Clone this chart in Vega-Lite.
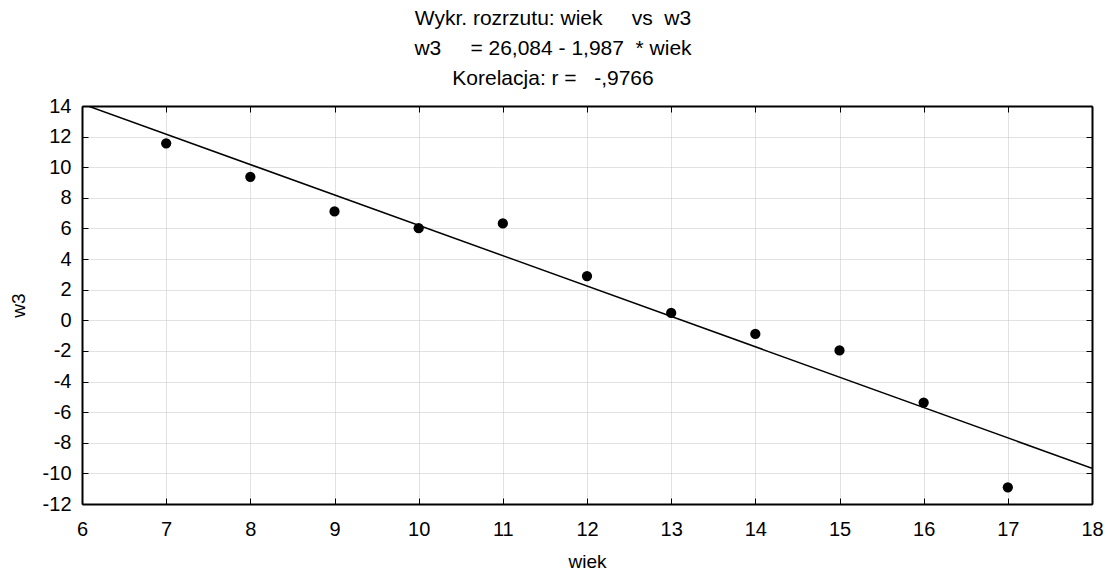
{
  "$schema": "https://vega.github.io/schema/vega-lite/v6.json",
  "width": 1010,
  "height": 398,
  "autosize": "none",
  "padding": {"left": 82, "top": 106, "right": 16, "bottom": 70},
  "background": "white",
  "config": {
    "font": "Liberation Sans",
    "view": {"stroke": null}
  },
  "title": {
    "text": ["Wykr. rozrzutu: wiek\u00a0\u00a0\u00a0\u00a0\u00a0vs\u00a0\u00a0w3", "w3\u00a0\u00a0\u00a0\u00a0\u00a0= 26,084 - 1,987\u00a0\u00a0* wiek", "Korelacja: r =\u00a0\u00a0\u00a0-,9766"],
    "fontSize": 21,
    "fontWeight": "normal",
    "font": "Liberation Sans",
    "color": "black",
    "lineHeight": 30,
    "offset": 7,
    "dx": -34,
    "anchor": "middle"
  },
  "data": {
    "values": [
      {"wiek": 7, "w3": 11.56},
      {"wiek": 8, "w3": 9.37},
      {"wiek": 9, "w3": 7.11},
      {"wiek": 10, "w3": 6.02},
      {"wiek": 11, "w3": 6.33},
      {"wiek": 12, "w3": 2.89},
      {"wiek": 13, "w3": 0.48},
      {"wiek": 14, "w3": -0.89},
      {"wiek": 15, "w3": -1.97},
      {"wiek": 16, "w3": -5.37},
      {"wiek": 17, "w3": -10.91}
    ]
  },
  "resolve": {"axis": {"x": "independent", "y": "independent"}},
  "layer": [
    {
      "mark": {"type": "circle", "size": 105, "opacity": 1, "color": "black"},
      "encoding": {
        "x": {
          "field": "wiek", "type": "quantitative",
          "scale": {"domain": [6, 18], "nice": false, "zero": false},
          "axis": {
            "title": "wiek", "titleFontSize": 19, "titleFontWeight": "normal", "titleColor": "black", "titlePadding": 13,
            "values": [6, 7, 8, 9, 10, 11, 12, 13, 14, 15, 16, 17, 18],
            "labelExpr": "'' + datum.value",
            "labelFontSize": 20, "labelColor": "black", "labelPadding": 21, "labelFlush": false,
            "domainColor": "black", "domainWidth": 2,
            "tickColor": "black", "tickSize": -6, "tickWidth": 1,
            "grid": true, "gridColor": "#c4c4c4", "gridDash": [1, 1], "gridWidth": 1
          }
        },
        "y": {
          "field": "w3", "type": "quantitative",
          "scale": {"domain": [-12, 14], "nice": false, "zero": false},
          "axis": {
            "title": "w3", "titleFontSize": 19, "titleFontWeight": "normal", "titleColor": "black", "titlePadding": 14,
            "values": [-12, -10, -8, -6, -4, -2, 0, 2, 4, 6, 8, 10, 12, 14],
            "labelExpr": "'' + datum.value",
            "labelFontSize": 20, "labelColor": "black", "labelPadding": 17, "labelFlush": false,
            "domainColor": "black", "domainWidth": 2,
            "tickColor": "black", "tickSize": -6, "tickWidth": 1,
            "grid": true, "gridColor": "#c4c4c4", "gridDash": [1, 1], "gridWidth": 1
          }
        }
      }
    },
    {
      "transform": [{"regression": "w3", "on": "wiek", "extent": [6, 18]}],
      "mark": {"type": "line", "color": "black", "strokeWidth": 1.5, "clip": true},
      "encoding": {
        "x": {
          "field": "wiek", "type": "quantitative",
          "axis": {
            "orient": "top", "title": null, "labels": false, "grid": false,
            "values": [6, 7, 8, 9, 10, 11, 12, 13, 14, 15, 16, 17, 18],
            "domainColor": "black", "domainWidth": 2,
            "tickColor": "black", "tickSize": -6, "tickWidth": 1
          }
        },
        "y": {
          "field": "w3", "type": "quantitative",
          "axis": {
            "orient": "right", "title": null, "labels": false, "grid": false,
            "values": [-12, -10, -8, -6, -4, -2, 0, 2, 4, 6, 8, 10, 12, 14],
            "domainColor": "black", "domainWidth": 2,
            "tickColor": "black", "tickSize": -6, "tickWidth": 1
          }
        }
      }
    }
  ]
}
